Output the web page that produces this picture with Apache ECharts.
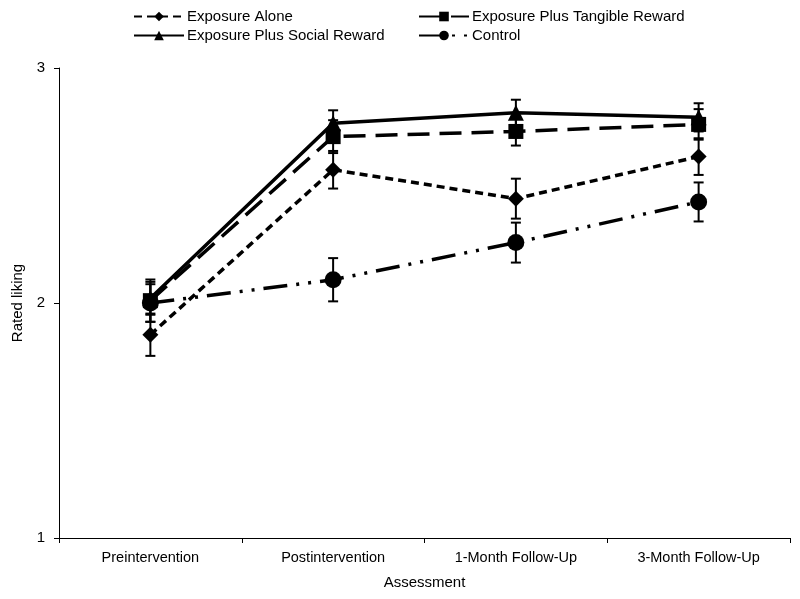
<!DOCTYPE html>
<html>
<head>
<meta charset="utf-8">
<script src="https://cdn.jsdelivr.net/npm/echarts@6/dist/echarts.min.js"></script>
<style>html,body{margin:0;padding:0;background:#fff}#c{width:800px;height:599px}</style>
</head>
<body>
<div id="c"></div>
<script>
const categories = ['Preintervention', 'Postintervention', '1-Month Follow-Up', '3-Month Follow-Up'];
const exposureAlone = [1.865, 2.567, 2.444, 2.623];
const exposureAloneErr = [0.09, 0.08, 0.085, 0.078];
const tangibleReward = [2.01, 2.708, 2.73, 2.76];
const tangibleRewardErr = [0.09, 0.07, 0.06, 0.065];
const socialReward = [2.02, 2.765, 2.81, 2.79];
const socialRewardErr = [0.07, 0.055, 0.055, 0.06];
const control = [2.0, 2.099, 2.257, 2.43];
const controlErr = [0.08, 0.092, 0.085, 0.083];
const yTicks = [1, 2, 3];

const FONT = 'Liberation Sans, Arial, sans-serif';

function errData(vals, errs) {
  return vals.map((v, i) => [i, v - errs[i], v + errs[i]]);
}
function errSeries(name, vals, errs) {
  return {
    type: 'custom',
    name: name + ' err',
    z: 1,
    silent: true,
    data: errData(vals, errs),
    encode: { x: 0, y: [1, 2] },
    renderItem: function (params, api) {
      const x = api.value(0);
      const lo = api.coord([x, api.value(1)]);
      const hi = api.coord([x, api.value(2)]);
      const hw = 5;
      const st = { stroke: '#000', lineWidth: 2 };
      return {
        type: 'group',
        children: [
          { type: 'line', shape: { x1: lo[0], y1: lo[1], x2: hi[0], y2: hi[1] }, style: st },
          { type: 'line', shape: { x1: lo[0] - hw, y1: lo[1], x2: lo[0] + hw, y2: lo[1] }, style: st },
          { type: 'line', shape: { x1: hi[0] - hw, y1: hi[1], x2: hi[0] + hw, y2: hi[1] }, style: st }
        ]
      };
    }
  };
}
function lineSeries(name, vals, symbol, size, dash) {
  return {
    type: 'line',
    name: name,
    data: vals,
    z: 3,
    symbol: symbol,
    symbolSize: size,
    showAllSymbol: true,
    itemStyle: { color: '#000' },
    lineStyle: { color: '#000', width: 3.5, type: dash },
    emphasis: { disabled: true },
    animation: false
  };
}
const legendBase = {
  itemWidth: 50, itemHeight: 12, itemGap: 0,
  textStyle: { fontFamily: FONT, fontSize: 15, color: '#000', padding: [0, 0, 0, -2] },
  selectedMode: false
};

const chart = echarts.init(document.getElementById('c'), null, { renderer: 'canvas' });
chart.setOption({
  animation: false,
  backgroundColor: '#fff',
  grid: { left: 59, right: 10, top: 68, bottom: 61, containLabel: false },
  legend: [
    Object.assign({}, legendBase, { left: 128, top: 4, data: ['Exposure Alone'] }),
    Object.assign({}, legendBase, { left: 413, top: 4, data: ['Exposure Plus Tangible Reward'] }),
    Object.assign({}, legendBase, { left: 128, top: 23, data: ['Exposure Plus Social Reward'] }),
    Object.assign({}, legendBase, { left: 413, top: 23, data: ['Control'] })
  ],
  xAxis: {
    type: 'category',
    data: categories,
    boundaryGap: true,
    name: 'Assessment',
    nameLocation: 'middle',
    nameGap: 37,
    nameTextStyle: { fontFamily: FONT, fontSize: 15, color: '#000' },
    axisLine: { lineStyle: { color: '#000', width: 1 } },
    axisTick: { show: true, length: 5, lineStyle: { color: '#000' } },
    axisLabel: { fontFamily: FONT, fontSize: 14.5, color: '#000', margin: 12 },
    splitLine: { show: false }
  },
  yAxis: {
    type: 'value',
    min: yTicks[0],
    max: yTicks[yTicks.length - 1],
    interval: 1,
    name: 'Rated liking',
    nameLocation: 'middle',
    nameGap: 34,
    nameTextStyle: { fontFamily: FONT, fontSize: 15, color: '#000' },
    axisLine: { show: true, lineStyle: { color: '#000', width: 1 } },
    axisTick: { show: true, length: 5, lineStyle: { color: '#000' } },
    axisLabel: { fontFamily: FONT, fontSize: 15, color: '#000', margin: 14 },
    splitLine: { show: false }
  },
  series: [
    errSeries('Exposure Alone', exposureAlone, exposureAloneErr),
    errSeries('Exposure Plus Tangible Reward', tangibleReward, tangibleRewardErr),
    errSeries('Exposure Plus Social Reward', socialReward, socialRewardErr),
    errSeries('Control', control, controlErr),
    lineSeries('Exposure Alone', exposureAlone, 'diamond', 16, [8, 5]),
    lineSeries('Exposure Plus Tangible Reward', tangibleReward, 'rect', 15, [22, 10]),
    lineSeries('Exposure Plus Social Reward', socialReward, 'triangle', 16, 'solid'),
    lineSeries('Control', control, 'circle', 17, [24, 9, 3, 9, 3, 9])
  ]
});
</script>
</body>
</html>
